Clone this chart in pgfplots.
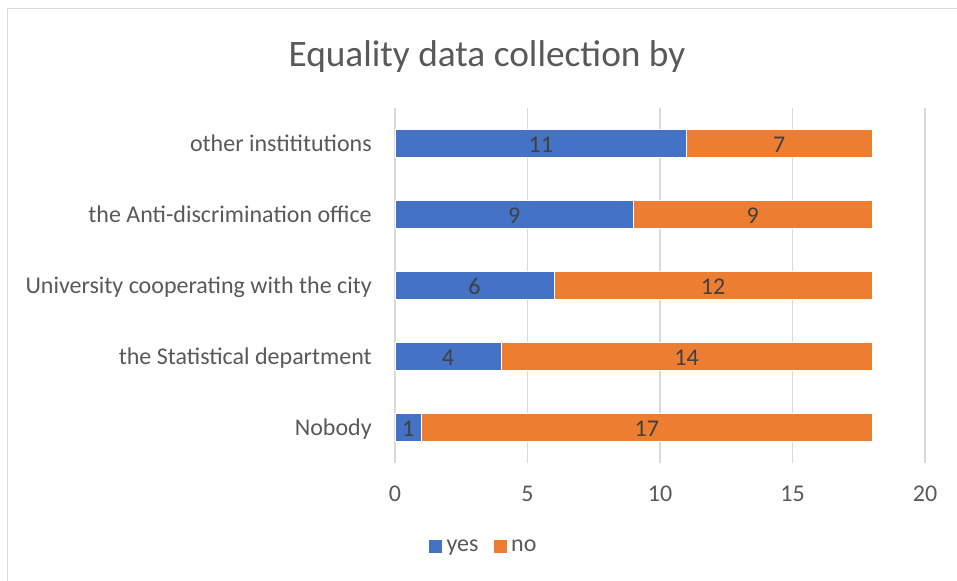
\documentclass[border=0pt]{standalone}
\usepackage{pgfplots}
\pgfplotsset{compat=1.18}
\usepackage{pgfplotstable}
\usepackage{fontspec}
\setmainfont{Carlito}

\definecolor{barblue}{HTML}{4472C4}
\definecolor{barorange}{HTML}{ED7D31}
\definecolor{txtgray}{HTML}{595959}
\definecolor{lblgray}{HTML}{404040}
\definecolor{gridgray}{HTML}{D9D9D9}

% answers per data collector (0 = bottom row)
\pgfplotstableread{
idx yes no
0   1   17
1   4   14
2   6   12
3   9   9
4   11  7
}\survey

\newcommand{\bodyfont}{\fontsize{18}{21.6}\selectfont}

\pgfplotsset{
  frame/.style={
    at={(296.25pt,88.5pt)}, anchor=south west,
    scale only axis, width=397.5pt, height=266.25pt,
    xmin=0, xmax=20, ymin=-0.5, ymax=4.5,
    /pgf/number format/assume math mode=true,
  },
}

\begin{document}
\begin{tikzpicture}[x=0.75pt,y=0.75pt]
\useasboundingbox (0,0) rectangle (957,581);
\draw[gridgray, line width=0.75pt] (7,0) -- (7,572) -- (957,572);
\node[txtgray, anchor=base, inner sep=0pt, font=\fontsize{28}{33}\selectfont]
  at (487,514.3) {Equality data collection by};
% stacked bars
\begin{axis}[
  frame,
  xbar stacked, bar width=21.3pt,
  xtick={0,5,10,15,20},
  ytick={0,1,2,3,4},
  yticklabels={Nobody, the Statistical department, University cooperating with the city, the Anti-discrimination office, other instititutions},
  xmajorgrids, major grid style={gridgray, line width=0.9pt},
  axis line style={draw=none}, tick style={draw=none},
  xticklabel style={anchor=base, inner sep=0pt, yshift=-29pt, text=txtgray, font=\bodyfont},
  yticklabel style={anchor=base east, inner sep=0pt, xshift=-17.25pt, yshift=-6pt, text=txtgray, font=\bodyfont},
  legend style={at={(0.170,-0.2366)}, anchor=center, legend columns=2, draw=none,
    font=\bodyfont, text=txtgray, inner sep=0pt,
    nodes={inner xsep=3.5pt, inner ysep=0pt},
    /tikz/every even column/.append style={column sep=8pt}},
  legend image code/.code={\fill[#1, draw=none] (0pt,-4.6pt) rectangle (9.6pt,5.2pt);},
]
\addplot[fill=barblue, draw=white, line width=0.5pt]
  table[x=yes, y=idx] {\survey};
\addplot[fill=barorange, draw=white, line width=0.5pt]
  table[x=no, y=idx] {\survey};
\legend{yes, no}
\end{axis}
% value labels, centred in each segment
\begin{axis}[
  frame, hide axis,
  nodes near coords, point meta=explicit,
  every node near coord/.style={anchor=base, inner sep=0pt, yshift=-6.4pt,
    text=lblgray, font=\bodyfont},
]
\addplot[only marks, mark=none, draw=none]
  table[x expr=\thisrow{yes}/2, y=idx, meta=yes] {\survey};
\addplot[only marks, mark=none, draw=none]
  table[x expr=\thisrow{yes}+\thisrow{no}/2, y=idx, meta=no] {\survey};
\end{axis}
\end{tikzpicture}
\end{document}
